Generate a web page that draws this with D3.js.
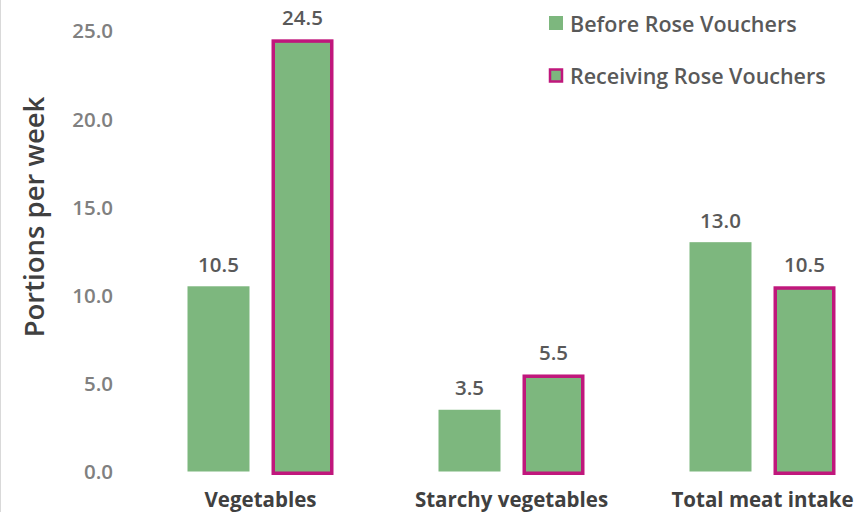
<!DOCTYPE html>
<html>
<head>
<meta charset="utf-8">
<script src="https://cdn.jsdelivr.net/npm/d3@7"></script>
<style>
  html, body { margin: 0; padding: 0; background: #fff; }
  svg { display: block; font-family: "Open Sans", "Noto Sans", sans-serif; }
</style>
</head>
<body>
<svg id="chart" width="856" height="512"></svg>
<script>
// Portions per week, before vs. while receiving Rose Vouchers
const categories = ["Vegetables", "Starchy vegetables", "Total meat intake"];
const seriesNames = ["Before Rose Vouchers", "Receiving Rose Vouchers"];
const before = [10.5, 3.5, 13.0];
const receiving = [24.5, 5.5, 10.5];
const yTicks = [0, 5, 10, 15, 20, 25];

const green = "#7db77e";
const magenta = "#c0177c";

const svg = d3.select("#chart");

const y = d3.scaleLinear().domain([0, 25]).range([471.5, 30.5]);
const x = d3.scaleBand().domain(categories).range([135, 888]);
const inner = d3.scaleBand().domain(seriesNames).range([-73, 73]).paddingInner(0.262);

// left frame edge
svg.append("line").attr("x1", 0.5).attr("x2", 0.5).attr("y1", 0).attr("y2", 512)
  .attr("stroke", "#d9d9d9").attr("stroke-width", 1);

// y axis tick labels
const yAxis = d3.axisLeft(y).tickValues(yTicks).tickFormat(d3.format(".1f")).tickSize(0).tickPadding(0);
const ya = svg.append("g").attr("transform", "translate(113,0)").call(yAxis);
ya.select(".domain").remove();
ya.selectAll("text").attr("fill", "#808080").attr("font-size", 20.5).attr("font-weight", 600)
  .attr("font-family", "'Open Sans', sans-serif").attr("dy", "0.36em");

// y axis title
svg.append("text")
  .attr("transform", "translate(33,217) rotate(-90)")
  .attr("text-anchor", "middle").attr("dominant-baseline", "central")
  .attr("fill", "#404040").attr("font-size", 27.5).attr("font-weight", 600)
  .text("Portions per week");

// bars
const rows = categories.map((c, i) => ({ c, vals: [before[i], receiving[i]] }));
const groups = svg.append("g").selectAll("g").data(rows).join("g")
  .attr("transform", d => `translate(${x(d.c) + x.bandwidth() / 2},0)`);

groups.selectAll("rect").data(d => d.vals.map((v, j) => ({ v, s: seriesNames[j], j }))).join("rect")
  .attr("x", d => inner(d.s) + (d.j === 1 ? 1.75 : 0))
  .attr("width", d => inner.bandwidth() - (d.j === 1 ? 3.5 : 0))
  .attr("y", d => y(d.v) + (d.j === 1 ? 1.75 : 0))
  .attr("height", d => y(0) - y(d.v))
  .attr("fill", green)
  .attr("stroke", d => d.j === 1 ? magenta : "none")
  .attr("stroke-width", 3.5);

// value labels
groups.selectAll("text.val").data(d => d.vals.map((v, j) => ({ v, s: seriesNames[j] }))).join("text")
  .attr("class", "val")
  .attr("x", d => inner(d.s) + inner.bandwidth() / 2)
  .attr("y", d => y(d.v) - 22.5)
  .attr("text-anchor", "middle").attr("dominant-baseline", "central")
  .attr("fill", "#595959").attr("font-size", 20.5).attr("font-weight", 600)
  .text(d => d3.format(".1f")(d.v));

// category labels
const xa = svg.append("g")
  .call(d3.axisBottom(x).tickSize(0).tickPadding(0));
xa.select(".domain").remove();
xa.selectAll("text").attr("fill", "#404040").attr("font-size", 20.5).attr("font-weight", 700)
  .attr("font-family", "'Open Sans', sans-serif").attr("y", 507).attr("dy", null);

// legend
const legend = svg.append("g").selectAll("g").data(seriesNames).join("g")
  .attr("transform", (d, i) => `translate(549,${23 + i * 52.5})`);
legend.append("rect")
  .attr("x", (d, i) => i === 1 ? 1 : 0).attr("y", (d, i) => i === 1 ? -6 : -7)
  .attr("width", (d, i) => i === 1 ? 12 : 14).attr("height", (d, i) => i === 1 ? 12 : 14)
  .attr("fill", green)
  .attr("stroke", (d, i) => i === 1 ? magenta : "none").attr("stroke-width", 2.5);
legend.append("text")
  .attr("x", 21).attr("y", 0).attr("dominant-baseline", "central")
  .attr("fill", "#595959").attr("font-size", 21.5).attr("font-weight", 600)
  .text(d => d);
</script>
</body>
</html>
